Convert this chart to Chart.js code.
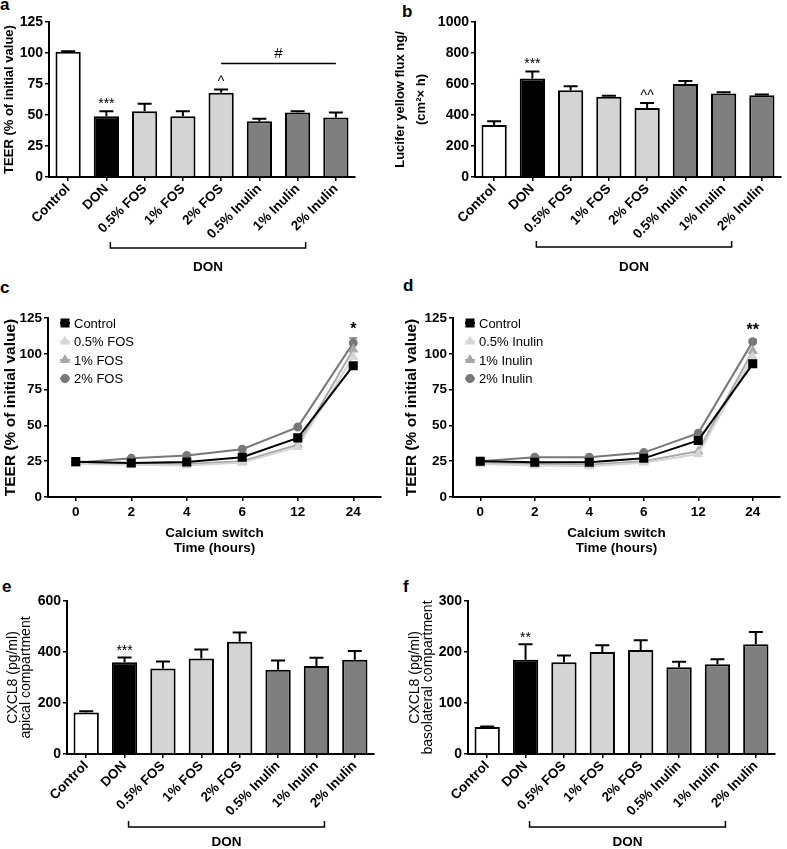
<!DOCTYPE html>
<html><head><meta charset="utf-8">
<script src="https://cdn.jsdelivr.net/npm/chart.js@4.4.1/dist/chart.umd.min.js"></script>
<style>
html,body{margin:0;padding:0;background:#fff;}
body{width:787px;height:849px;position:relative;overflow:hidden;}
canvas{position:absolute;}
.lbl{position:absolute;font:bold 17px 'Liberation Sans',Arial,sans-serif;line-height:17px;color:#000;}
</style></head><body>
<div class="lbl" style="left:0;top:-4px">a</div>
<div class="lbl" style="left:402px;top:3px">b</div>
<div class="lbl" style="left:0;top:279px">c</div>
<div class="lbl" style="left:403px;top:277px">d</div>
<div class="lbl" style="left:2px;top:578px">e</div>
<div class="lbl" style="left:403px;top:578px">f</div>
<canvas id="ca" width="390" height="285" style="left:0;top:0"></canvas>
<canvas id="cb" width="397" height="285" style="left:390px;top:0"></canvas>
<canvas id="cc" width="390" height="275" style="left:0;top:285px"></canvas>
<canvas id="cd" width="397" height="275" style="left:390px;top:285px"></canvas>
<canvas id="ce" width="390" height="289" style="left:0;top:560px"></canvas>
<canvas id="cf" width="397" height="289" style="left:390px;top:560px"></canvas>
<script>
// ---------- data ----------
const barCategories = ['Control','DON','0.5% FOS','1% FOS','2% FOS','0.5% Inulin','1% Inulin','2% Inulin'];
const teerValues   = [101, 49, 53, 49, 68, 45, 52, 48];
const teerErrors   = [0.5, 4, 6, 4, 2.5, 2, 1, 4];
const luciferValues = [335, 635, 560, 518, 445, 600, 538, 527];
const luciferErrors = [25, 45, 25, 7, 32, 20, 8, 6];
const apicalValues = [163, 360, 335, 375, 440, 330, 345, 370];
const apicalErrors = [5, 18, 28, 35, 36, 37, 32, 34];
const basoValues   = [53, 185, 180, 200, 204, 170, 176, 215];
const basoErrors   = [1, 30, 13, 13, 19, 11, 10, 24];

const timeLabels = ['0','2','4','6','12','24'];
const fosNames = ['Control','0.5% FOS','1% FOS','2% FOS'];
const fosControl = [24.7, 23.8, 24.5, 27.8, 41.3, 91.7];
const fos05      = [23, 22.5, 22, 24, 35, 98];
const fos1       = [23.5, 23, 23, 25, 36.5, 103];
const fos2       = [24, 27, 29, 33.4, 48.8, 107.6];
const fos2Err    = [0, 0, 0, 0, 0, 3.5];
const inulinNames = ['Control','0.5% Inulin','1% Inulin','2% Inulin'];
const inuControl = [25, 24.3, 24.3, 27, 39.5, 93];
const inu05      = [23, 22, 21.5, 24, 30, 98];
const inu1       = [23.5, 23, 22.5, 25, 32, 102];
const inu2       = [25, 27.8, 27.8, 31, 44.6, 108.5];
const inu2Err    = [0, 0, 0, 0, 0, 1.5];

// ---------- styles ----------
const SANS = "'Liberation Sans', Arial, Helvetica, sans-serif";
const barColors = ['#ffffff','#000000','#d4d4d4','#d4d4d4','#d4d4d4','#7f7f7f','#7f7f7f','#7f7f7f'];
const lineStyles = [
  {c:'#000000', p:'rect', r:5},
  {c:'#d6d6d6', p:'triangle', r:4},
  {c:'#a8a8a8', p:'triangle', r:4},
  {c:'#787878', p:'circle', r:3.5}
];

const barExtras = {
  id:'barExtras',
  afterDraw(chart, args, o) {
    const ctx = chart.ctx, meta = chart.getDatasetMeta(0), y = chart.scales.y, x = chart.scales.x;
    const vals = chart.data.datasets[0].data;
    const capTop = i => y.getPixelForValue(vals[i] + o.errors[i]);
    ctx.save();
    ctx.strokeStyle = '#000'; ctx.fillStyle = '#000'; ctx.lineWidth = 2;
    meta.data.forEach((bar, i) => {
      const e = o.errors[i]; if (!e) return;
      const t = capTop(i);
      ctx.beginPath();
      ctx.moveTo(bar.x, bar.y); ctx.lineTo(bar.x, t);
      ctx.moveTo(bar.x - 7, t); ctx.lineTo(bar.x + 7, t);
      ctx.stroke();
    });
    ctx.textAlign = 'center'; ctx.textBaseline = 'alphabetic';
    (o.marks || []).forEach(m => {
      ctx.font = m.font;
      ctx.fillText(m.text, meta.data[m.index].x, capTop(m.index) - m.gap);
    });
    if (o.group) {
      const g = o.group;
      let top = Infinity;
      for (let i = g.from; i <= g.to; i++) top = Math.min(top, capTop(i));
      const ly = top - g.dy;
      ctx.lineWidth = 1.5;
      ctx.beginPath(); ctx.moveTo(meta.data[g.from].x, ly); ctx.lineTo(meta.data[g.to].x, ly); ctx.stroke();
      ctx.font = g.font;
      ctx.fillText(g.text, (meta.data[g.from].x + meta.data[g.to].x) / 2, ly - g.gap);
    }
    const b = o.bracket;
    const x1 = x.getPixelForValue(b.from) + 4, x2 = x.getPixelForValue(b.to) + 8;
    const by = chart.chartArea.bottom + b.dy;
    ctx.lineWidth = 1.5;
    ctx.beginPath();
    ctx.moveTo(x1, by - 6); ctx.lineTo(x1, by); ctx.lineTo(x2, by); ctx.lineTo(x2, by - 6);
    ctx.stroke();
    ctx.font = 'bold 13.5px ' + SANS; ctx.textBaseline = 'middle';
    ctx.fillText(b.text, (x1 + x2) / 2, by + b.ty);
    ctx.restore();
  }
};

function barChart(id, c) {
  return new Chart(document.getElementById(id), {
    type: 'bar',
    data: { labels: barCategories, datasets: [{
      data: c.values, backgroundColor: barColors, borderColor: '#000', borderWidth: 2,
      borderSkipped: 'start', barPercentage: 0.66, categoryPercentage: 1 }] },
    options: {
      responsive: false, animation: false, devicePixelRatio: 1,
      layout: { padding: c.pad },
      plugins: { legend: {display:false}, tooltip: {enabled:false},
        barExtras: { errors: c.errors, marks: c.marks, group: c.group, bracket: c.bracket } },
      scales: {
        x: {
          offset: true,
          grid: { drawOnChartArea: false, offset: false, tickLength: 4, color: '#000', lineWidth: 1.5 },
          border: { color: '#000', width: 2 },
          ticks: { autoSkip: false, maxRotation: 45, minRotation: 45, color: '#000', padding: 0,
                   font: { family: SANS, size: 13.5, weight: 'bold' } },
          afterFit(s) { s.height = c.xh; }
        },
        y: {
          min: 0, max: c.max,
          ticks: { stepSize: c.step, color: '#000', padding: 2, callback: v => String(v),
                   font: { family: SANS, size: 14, weight: 'bold' } },
          grid: { drawOnChartArea: false, tickLength: 4, color: '#000', lineWidth: 1.5 },
          border: { color: '#000', width: 2 },
          title: { display: true, text: c.ytitle, color: '#000', font: c.yfont, padding: { top: c.tpad, bottom: 0 } },
          afterFit(s) { s.width = c.yw; }
        }
      }
    },
    plugins: [barExtras]
  });
}

const lineExtras = {
  id:'lineExtras',
  afterDraw(chart, args, o) {
    const ctx = chart.ctx, y = chart.scales.y;
    ctx.save();
    chart.data.datasets.forEach((ds, di) => {
      const errs = o.errors[di]; if (!errs) return;
      const meta = chart.getDatasetMeta(di);
      meta.data.forEach((pt, i) => {
        if (!errs[i]) return;
        const t = y.getPixelForValue(ds.data[i] + errs[i]);
        ctx.strokeStyle = ds.borderColor; ctx.lineWidth = 1.5;
        ctx.beginPath(); ctx.moveTo(pt.x, pt.y); ctx.lineTo(pt.x, t);
        ctx.moveTo(pt.x - 4, t); ctx.lineTo(pt.x + 4, t); ctx.stroke();
      });
    });
    const idx = o.mark.index;
    let top = Infinity, mx = 0;
    chart.data.datasets.forEach((ds, di) => {
      const e = o.errors[di] ? o.errors[di][idx] : 0;
      top = Math.min(top, y.getPixelForValue(ds.data[idx] + e));
      mx = chart.getDatasetMeta(di).data[idx].x;
    });
    ctx.fillStyle = '#000'; ctx.textAlign = 'center'; ctx.textBaseline = 'alphabetic';
    ctx.font = o.mark.font;
    ctx.fillText(o.mark.text, mx, top - o.mark.gap);
    const L = o.legend;
    ctx.textAlign = 'left'; ctx.textBaseline = 'middle';
    ctx.font = '13px ' + SANS;
    chart.data.datasets.forEach((ds, di) => {
      const ly = L.y + di * L.dy;
      ctx.strokeStyle = ds.borderColor; ctx.lineWidth = 2;
      ctx.beginPath(); ctx.moveTo(L.x - 5, ly); ctx.lineTo(L.x + 5, ly); ctx.stroke();
      ctx.fillStyle = ds.borderColor;
      Chart.helpers.drawPoint(ctx, { pointStyle: ds.pointStyle, radius: ds.pointRadius, borderWidth: 1 }, L.x, ly);
      ctx.fillStyle = '#000';
      ctx.fillText(ds.label, L.x + 9, ly + 1);
    });
    ctx.restore();
  }
};

function lineChart(id, c) {
  return new Chart(document.getElementById(id), {
    type: 'line',
    data: { labels: timeLabels, datasets: c.series.map((s, i) => ({
      label: c.names[i], data: s, borderColor: lineStyles[i].c, backgroundColor: lineStyles[i].c,
      pointBorderColor: lineStyles[i].c, pointBackgroundColor: lineStyles[i].c,
      pointStyle: lineStyles[i].p, pointRadius: lineStyles[i].r, borderWidth: 2, tension: 0 })) },
    options: {
      responsive: false, animation: false, devicePixelRatio: 1,
      layout: { padding: c.pad },
      plugins: { legend: {display:false}, tooltip: {enabled:false},
        lineExtras: { errors: c.errors, mark: c.mark, legend: c.legend } },
      scales: {
        x: {
          offset: true,
          grid: { drawOnChartArea: false, offset: false, tickLength: 4, color: '#000', lineWidth: 1.5 },
          border: { color: '#000', width: 2 },
          ticks: { color: '#000', padding: 3, font: { family: SANS, size: 13.5, weight: 'bold' } },
          title: { display: true, text: ['Calcium switch', 'Time (hours)'], color: '#000',
                   font: { family: SANS, size: 13.5, weight: 'bold', lineHeight: 1.1 }, padding: { top: 0, bottom: 4 } },
          afterFit(s) { s.height = c.xh; }
        },
        y: {
          min: 0, max: 125,
          ticks: { stepSize: 25, color: '#000', padding: 2, font: { family: SANS, size: 13.5, weight: 'bold' } },
          grid: { drawOnChartArea: false, tickLength: 4, color: '#000', lineWidth: 1.5 },
          border: { color: '#000', width: 2 },
          title: { display: true, text: 'TEER (% of initial value)', color: '#000',
                   font: { family: SANS, size: 15.5, weight: 'bold', lineHeight: 1.2 }, padding: { top: c.tpad, bottom: 0 } },
          afterFit(s) { s.width = c.yw; }
        }
      }
    },
    plugins: [lineExtras]
  });
}

// ---------- panels ----------
barChart('ca', {
  values: teerValues, errors: teerErrors, max: 125, step: 25,
  pad: { top: 22, right: 35, left: 0, bottom: 0 }, yw: 49, xh: 108, tpad: 2,
  ytitle: 'TEER (% of initial value)', yfont: { family: SANS, size: 13, weight: 'bold', lineHeight: 1.2 },
  marks: [ { index: 1, text: '***', font: '14px ' + SANS, gap: 3 },
           { index: 4, text: '^', font: '14px ' + SANS, gap: 4 } ],
  group: { from: 4, to: 7, dy: 26, gap: 6, text: '#', font: '15px ' + SANS },
  bracket: { from: 1, to: 6, dy: 71, ty: 19, text: 'DON' }
});
barChart('cb', {
  values: luciferValues, errors: luciferErrors, max: 1000, step: 200,
  pad: { top: 22, right: 6, left: 0, bottom: 0 }, yw: 85, xh: 108, tpad: 0,
  ytitle: ['Lucifer yellow flux ng/', '(cm\u00B2\u00D7 h)'], yfont: { family: SANS, size: 13, weight: 'bold', lineHeight: 1.6 },
  marks: [ { index: 1, text: '***', font: '14px ' + SANS, gap: 4 },
           { index: 4, text: '^^', font: '14px ' + SANS, gap: 3 } ],
  bracket: { from: 1, to: 6, dy: 70, ty: 20, text: 'DON' }
});
lineChart('cc', {
  series: [fosControl, fos05, fos1, fos2], names: fosNames, errors: [null, null, null, fos2Err],
  pad: { top: 33, right: 9, left: 0, bottom: 0 }, yw: 48, xh: 63, tpad: 1,
  mark: { index: 5, text: '*', font: 'bold 16px ' + SANS, gap: 4 },
  legend: { x: 65, y: 38, dy: 18.5 }
});
lineChart('cd', {
  series: [inuControl, inu05, inu1, inu2], names: inulinNames, errors: [null, null, null, inu2Err],
  pad: { top: 33, right: 0, left: 0, bottom: 0 }, yw: 63, xh: 63, tpad: 12.5,
  mark: { index: 5, text: '**', font: 'bold 16px ' + SANS, gap: 4 },
  legend: { x: 80, y: 38, dy: 18.5 }
});
barChart('ce', {
  values: apicalValues, errors: apicalErrors, max: 600, step: 200,
  pad: { top: 41, right: 16, left: 0, bottom: 0 }, yw: 67, xh: 95, tpad: 7,
  ytitle: ['CXCL8 (pg/ml)', 'apical compartment'], yfont: { family: SANS, size: 14, lineHeight: 0.92 },
  marks: [ { index: 1, text: '***', font: '14px ' + SANS, gap: 3 } ],
  bracket: { from: 1, to: 6, dy: 73, ty: 15, text: 'DON' }
});
barChart('cf', {
  values: basoValues, errors: basoErrors, max: 300, step: 100,
  pad: { top: 41, right: 12, left: 0, bottom: 0 }, yw: 78, xh: 95, tpad: 18.5,
  ytitle: ['CXCL8 (pg/ml)', 'basolateral compartment'], yfont: { family: SANS, size: 14, lineHeight: 0.92 },
  marks: [ { index: 1, text: '**', font: '14px ' + SANS, gap: 2 } ],
  bracket: { from: 1, to: 6, dy: 73, ty: 15, text: 'DON' }
});
</script>
</body></html>
